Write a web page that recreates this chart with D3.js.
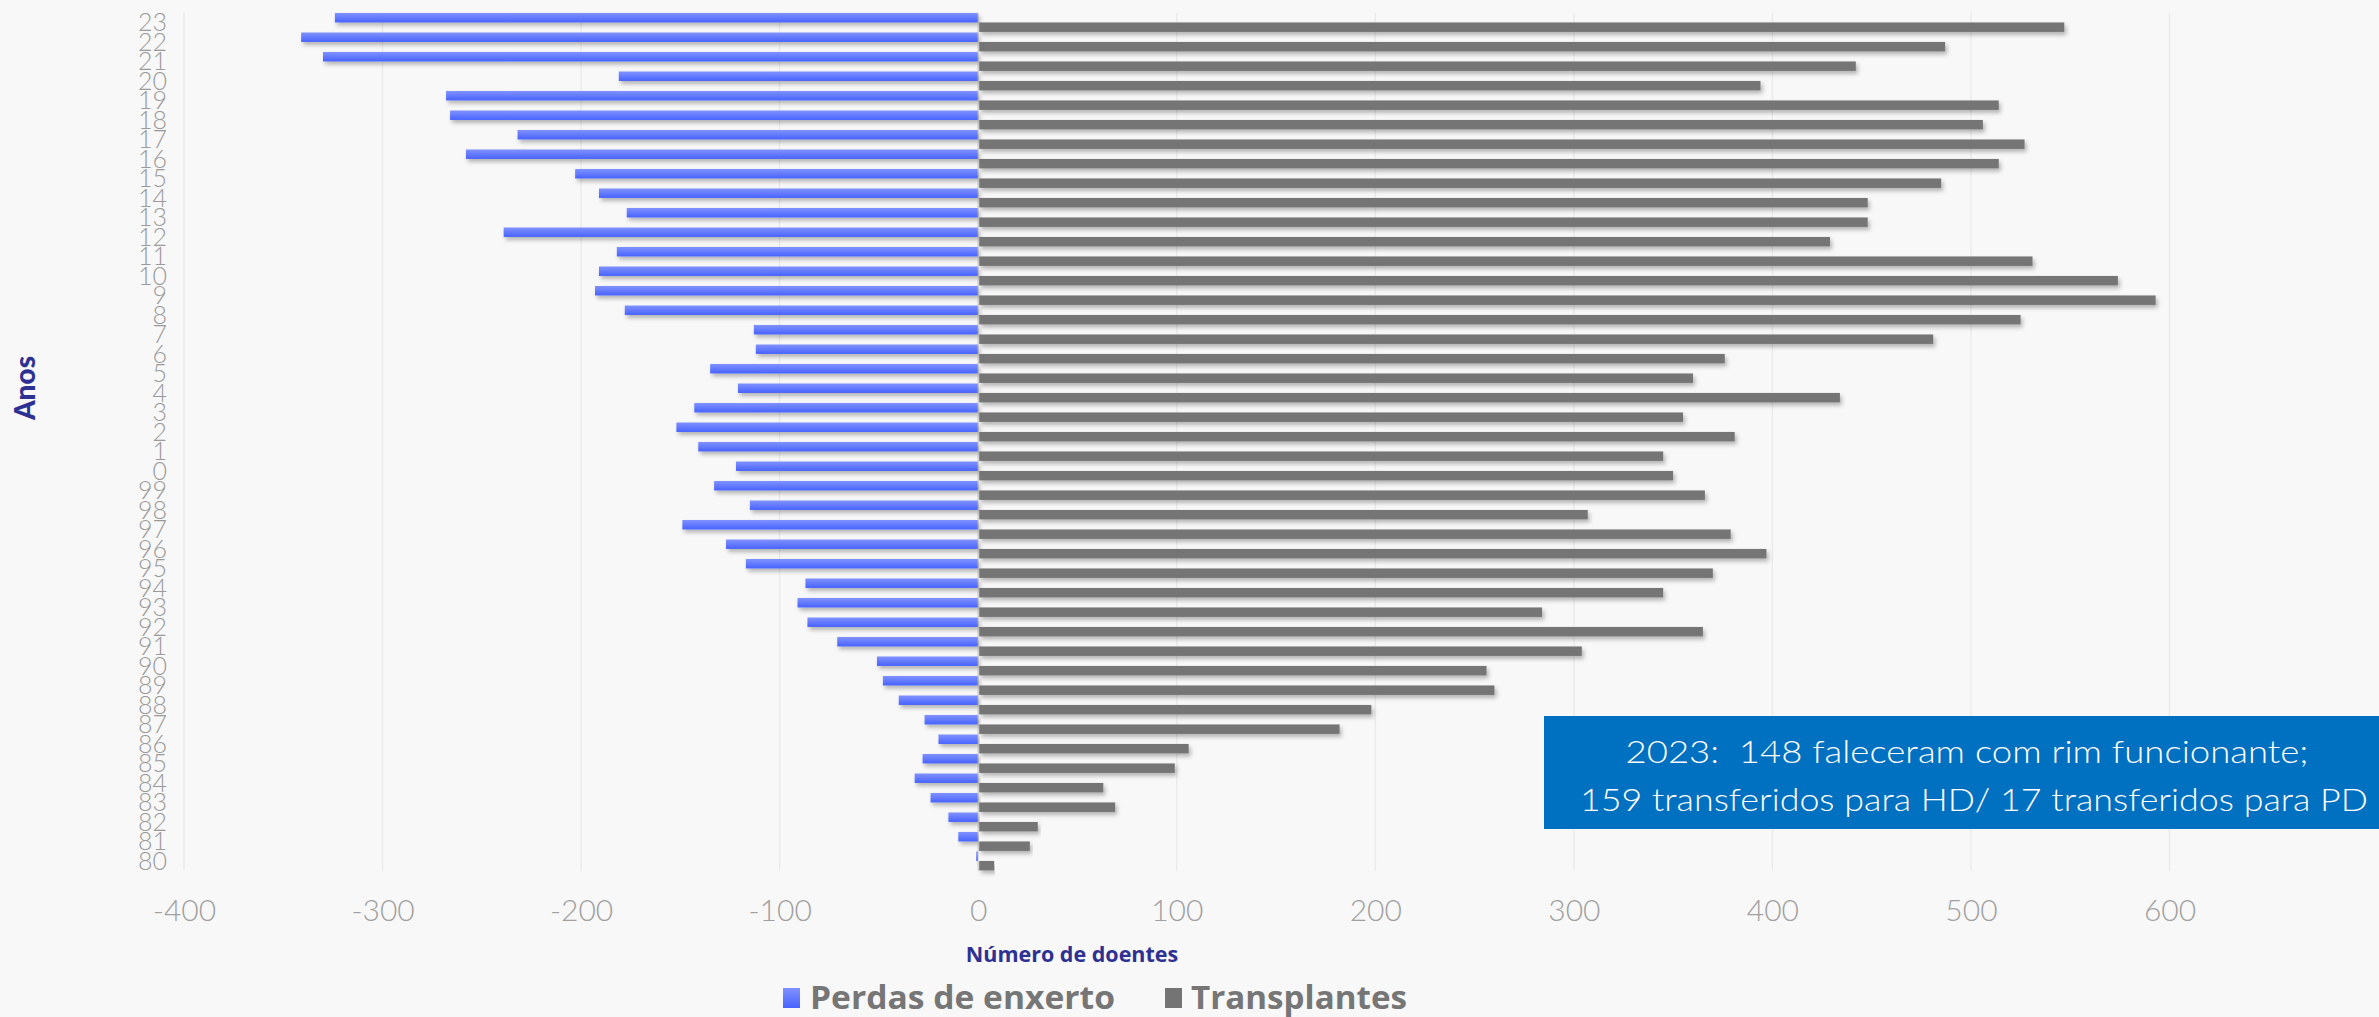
<!DOCTYPE html>
<html>
<head>
<meta charset="utf-8">
<script src="https://cdn.jsdelivr.net/npm/d3@7"></script>
<style>
  html, body { margin: 0; padding: 0; background: #f8f8f8; }
  svg { display: block; }
</style>
</head>
<body>
<svg id="chart" width="2379" height="1017"></svg>
<script>
// ---- data (chronological 1980 -> 2023) ----
const categories = ["80","81","82","83","84","85","86","87","88","89",
  "90","91","92","93","94","95","96","97","98","99",
  "0","1","2","3","4","5","6","7","8","9",
  "10","11","12","13","14","15","16","17","18","19",
  "20","21","22","23"];
const perdasEnxerto = [-1,-10,-15,-24,-32,-28,-20,-27,-40,-48,
  -51,-71,-86,-91,-87,-117,-127,-149,-115,-133,
  -122,-141,-152,-143,-121,-135,-112,-113,-178,-193,
  -191,-182,-239,-177,-191,-203,-258,-232,-266,-268,
  -181,-330,-341,-324];
const transplantes = [8,26,30,69,63,99,106,182,198,260,
  256,304,365,284,345,370,397,379,307,366,
  350,345,381,355,434,360,376,481,525,593,
  574,531,429,448,448,485,514,527,506,514,
  394,442,487,547];
const xTicks = [-400,-300,-200,-100,0,100,200,300,400,500,600];
const seriesNames = ["Perdas de enxerto","Transplantes"];
const noteLines = ["2023:  148 faleceram com rim funcionante;",
                   "159 transferidos para HD/ 17 transferidos para PD"];

const svg = d3.select("#chart");
const W = 2379, H = 1017;
const plotTop = 12.7, plotBottom = 870.7;

const x = d3.scaleLinear().domain([-400, 600]).range([184, 2169.5]);
const y = d3.scaleBand().domain(categories.slice().reverse())
  .range([plotTop, plotBottom]).paddingInner(0.03).paddingOuter(0.015);
const sub = d3.scaleBand().domain(["p","t"]).range([0, y.bandwidth()]).padding(0);

const defs = svg.append("defs");
const grad = defs.append("linearGradient").attr("id","blueGrad")
  .attr("x1",0).attr("y1",0).attr("x2",0).attr("y2",1);
grad.append("stop").attr("offset","0%").attr("stop-color","#8092ff");
grad.append("stop").attr("offset","100%").attr("stop-color","#4862ff");
const filt = defs.append("filter").attr("id","shadow")
  .attr("x","-5%").attr("y","-50%").attr("width","110%").attr("height","250%");
filt.append("feDropShadow").attr("dx",2).attr("dy",3).attr("stdDeviation",2)
  .attr("flood-color","#000").attr("flood-opacity",0.28);

// gridlines
svg.append("g").selectAll("line").data(xTicks).join("line")
  .attr("x1", d => x(d)).attr("x2", d => x(d))
  .attr("y1", plotTop).attr("y2", plotBottom)
  .attr("stroke", d => d === 0 ? "#d6d6d6" : "#ebebeb").attr("stroke-width", 1.5);

// bars
const rows = categories.map((c, i) => ({c, p: perdasEnxerto[i], t: transplantes[i]}));
const gBars = svg.append("g");
gBars.selectAll("rect.p").data(rows).join("rect").attr("class","p")
  .attr("x", d => x(d.p)).attr("width", d => x(0) - x(d.p) - 0.5)
  .attr("y", d => y(d.c) + sub("p")).attr("height", sub.bandwidth())
  .attr("fill","url(#blueGrad)").attr("filter","url(#shadow)");
gBars.selectAll("rect.t").data(rows).join("rect").attr("class","t")
  .attr("x", x(0) + 1).attr("width", d => x(d.t) - x(0) - 1)
  .attr("y", d => y(d.c) + sub("t")).attr("height", sub.bandwidth())
  .attr("fill","#747474").attr("filter","url(#shadow)");

// y axis labels
const yAxis = d3.axisLeft(y).tickSize(0).tickPadding(0);
const gy = svg.append("g").attr("transform","translate(167,0)").call(yAxis);
gy.select(".domain").remove();
gy.selectAll("text").attr("font-family","Lato, 'Open Sans', sans-serif")
  .attr("font-weight",300).attr("font-size",25).attr("fill","#9a9a9a")
  .attr("dy","0.36em");

// x axis labels
const xAxis = d3.axisBottom(x).tickValues(xTicks).tickSize(0).tickPadding(0)
  .tickFormat(d3.format("d"));
const gx = svg.append("g").attr("transform","translate(0,900)").call(xAxis);
gx.select(".domain").remove();
gx.selectAll("text").attr("font-family","Lato, 'Open Sans', sans-serif")
  .attr("font-weight",300).attr("font-size",30).attr("fill","#a0a0a0")
  .attr("dy","0.7em").text(d => String(d).replace("\u2212","-"));

// axis titles
svg.append("text").attr("x",1072).attr("y",962)
  .attr("text-anchor","middle").attr("font-family","'Open Sans', sans-serif")
  .attr("font-weight",700).attr("font-size",21.5).attr("fill","#2e3192")
  .text("Número de doentes");
svg.append("text").attr("transform","translate(35,388) rotate(-90)")
  .attr("text-anchor","middle").attr("font-family","Lato, sans-serif")
  .attr("font-weight",900).attr("font-size",28).attr("fill","#2e3192")
  .text("Anos");

// legend
const legend = svg.append("g");
const legItems = [
  {name: seriesNames[0], fill: "url(#blueGrad)", sx: 783, tx: 810, len: 305},
  {name: seriesNames[1], fill: "#747474", sx: 1165, tx: 1191, len: 216}
];
legItems.forEach(it => {
  legend.append("rect").attr("x", it.sx).attr("y", 988).attr("width", 17).attr("height", 20)
    .attr("fill", it.fill);
  legend.append("text").attr("x", it.tx).attr("y", 1009)
    .attr("font-family","'Open Sans', sans-serif").attr("font-weight",700)
    .attr("font-size",32).attr("fill","#767676")
    .attr("textLength", it.len).attr("lengthAdjust","spacingAndGlyphs")
    .text(it.name);
});

// note box
svg.append("rect").attr("x",1544).attr("y",716).attr("width",W-1544).attr("height",113)
  .attr("fill","#0070c0");
const noteLens = [683, 788], noteCx = [1967, 1974];
svg.append("g").selectAll("text").data(noteLines).join("text")
  .attr("x",(d,i) => noteCx[i]).attr("y",(d,i) => 763 + i*48)
  .attr("text-anchor","middle").attr("font-family","Lato, 'Open Sans', sans-serif")
  .attr("font-weight",300).attr("font-size",32).attr("fill","#ffffff")
  .attr("textLength",(d,i) => noteLens[i]).attr("lengthAdjust","spacingAndGlyphs")
  .attr("xml:space","preserve").style("white-space","pre")
  .text(d => d);
</script>
</body>
</html>
